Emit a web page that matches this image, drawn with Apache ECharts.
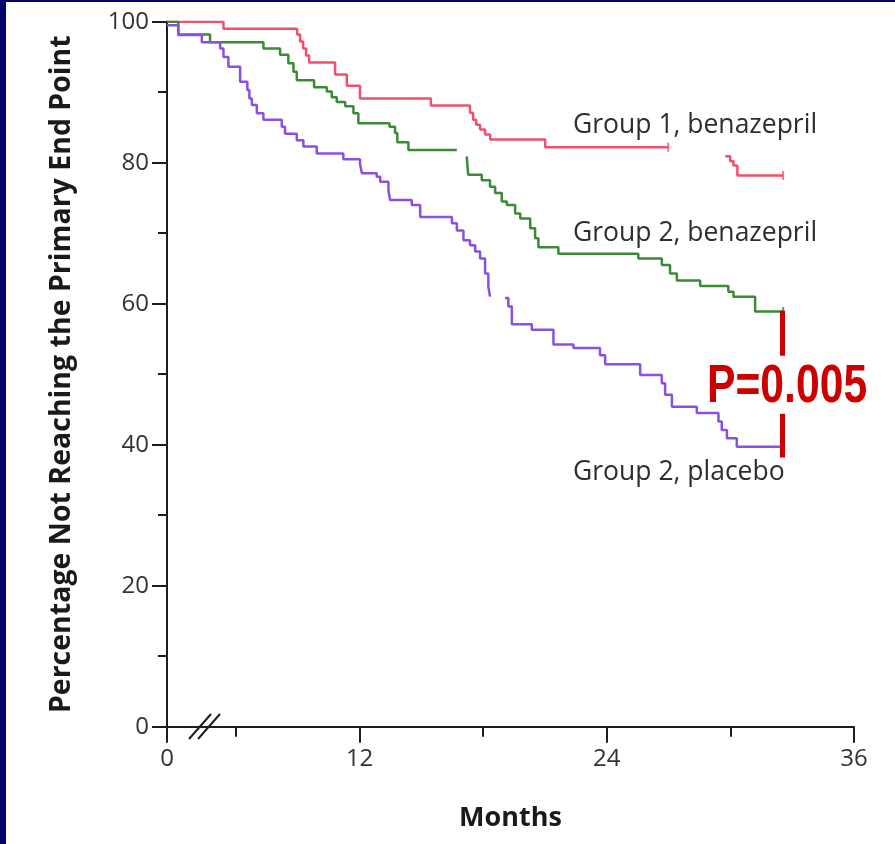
<!DOCTYPE html>
<html>
<head>
<meta charset="utf-8">
<script src="https://cdn.jsdelivr.net/npm/echarts@6/dist/echarts.min.js"></script>
<style>
html,body{margin:0;padding:0;background:#ffffff;}
#chart{width:895px;height:844px;}
</style>
</head>
<body>
<div id="chart"></div>
<script>
// Axis origin (the "0" before the axis break), in months on the linear part of the scale
const X_ORIGIN = 2.65;
const xTickValues = [X_ORIGIN, 12, 24, 36];
const xTickLabels = ['0', '12', '24', '36'];
const xMinorTickValues = [6, 18, 30];
const yTickLabels = [0, 20, 40, 60, 80, 100];

// Group 1, benazepril (null = gap in the printed curve)
const g1BenMonths = [2.65, 5.39, 8.97, 9.11, 9.26, 9.40, 9.55, 10.81, 11.38, 12.02, 15.46, 17.36, 17.51, 17.66, 17.85, 18.09, 18.34, 21.01, 26.98, null, 29.75, 29.99, 30.15, 30.34, 32.56];
const g1BenPct    = [100, 99.0, 98.2, 97.2, 96.2, 95.2, 94.2, 92.5, 90.9, 89.1, 88.1, 87.1, 86.1, 85.4, 84.7, 84.0, 83.3, 82.2, 82.2, null, 80.9, 80.2, 79.6, 78.2, 78.2];

// Group 2, benazepril
const g2BenMonths = [2.65, 3.20, 4.74, 7.33, 8.14, 8.54, 8.79, 8.95, 9.79, 10.41, 10.65, 10.89, 11.30, 11.70, 11.94, 13.45, 13.72, 13.83, 14.37, 16.72, null, 17.20, 17.27, 17.93, 18.33, 18.58, 18.90, 19.15, 19.55, 19.80, 20.28, 20.52, 20.68, 21.65, 25.53, 26.67, 27.07, 27.40, 28.53, 29.90, 30.15, 31.20, 32.56];
const g2BenPct    = [100, 98.2, 97.1, 96.2, 95.3, 94.1, 92.9, 91.7, 90.7, 90.1, 89.3, 88.6, 88.0, 87.0, 85.6, 85.1, 84.2, 82.9, 81.8, 81.8, null, 80.9, 78.3, 77.5, 76.6, 75.7, 74.5, 74.0, 72.8, 72.1, 70.7, 69.3, 68.0, 67.1, 66.4, 65.5, 64.3, 63.3, 62.5, 61.7, 61.0, 58.9, 58.9];

// Group 2, placebo
const g2PlaMonths = [2.65, 3.20, 4.34, 5.23, 5.39, 5.63, 6.20, 6.55, 6.65, 6.77, 7.01, 7.33, 8.22, 8.38, 8.95, 9.27, 9.92, 11.21, 12.02, 12.11, 12.83, 13.00, 13.40, 13.48, 14.53, 14.94, 16.48, 16.72, 17.04, 17.36, 17.61, 17.85, 18.09, 18.25, 18.33, null, 19.06, 19.22, 19.39, 20.36, 21.41, 22.38, 23.67, 23.92, 25.62, 26.67, 26.83, 27.16, 28.37, 29.42, 29.58, 29.83, 30.31, 32.56];
const g2PlaPct    = [99.5, 98.1, 97.1, 96.2, 95.0, 93.6, 91.5, 90.3, 89.1, 88.2, 87.0, 86.1, 85.1, 84.1, 83.2, 82.3, 81.3, 80.5, 79.8, 78.5, 78.0, 77.3, 76.1, 74.7, 74.0, 72.3, 71.4, 70.4, 69.0, 68.3, 67.4, 66.4, 64.3, 62.4, 61.0, null, 60.8, 59.6, 57.1, 56.3, 54.2, 53.7, 52.7, 51.4, 49.9, 48.7, 47.1, 45.4, 44.5, 43.3, 42.1, 40.9, 39.7, 39.7];

// Censoring marks
const g1CensorMonths = [26.98, 32.56];
const g1CensorPct = [82.2, 78.2];
const g2BenCensorMonths = [32.56];
const g2BenCensorPct = [58.9];
const g2PlaCensorMonths = [32.56];
const g2PlaCensorPct = [39.7];

// P-value comparison bar between the two Group 2 curves
const pBarMonth = 32.51;
const pBarPct = [59.0, 38.2];
const pValueText = 'P=0.005';

const seriesLabels = ['Group 1, benazepril', 'Group 2, benazepril', 'Group 2, placebo'];
const colors = ['#f0506e', '#3a8a36', '#8a50e4'];

function pairs(xs, ys) {
  return xs.map((x, i) => (x === null || ys[i] === null) ? [null, null] : [x, ys[i]]);
}

const chart = echarts.init(document.getElementById('chart'), null, {renderer: 'canvas'});
const axisColor = '#1e1e1e';
const fontLab = '"Open Sans", "Noto Sans", sans-serif';

function kmSeries(name, xs, ys, color, extra) {
  return Object.assign({
    name: name, type: 'line', step: 'end', showSymbol: false, connectNulls: false,
    data: pairs(xs, ys), lineStyle: {color: color, width: 2.5}, itemStyle: {color: color},
    animation: false, z: 3
  }, extra || {});
}
function censorSeries(xs, ys, color) {
  return {
    type: 'scatter', data: pairs(xs, ys), symbol: 'rect', symbolSize: [2, 9],
    itemStyle: {color: color}, animation: false, z: 4, silent: true
  };
}

chart.setOption({
  backgroundColor: '#ffffff',
  animation: false,
  grid: {left: 167, right: 41, top: 21.7, bottom: 117.3, containLabel: false},
  xAxis: [{
    type: 'value', min: X_ORIGIN, max: 36,
    name: 'Months', nameLocation: 'middle', nameGap: 78,
    nameTextStyle: {fontFamily: fontLab, fontWeight: 'bold', fontSize: 27, color: '#1a1a1a'},
    axisLine: {show: true, onZero: false, lineStyle: {color: axisColor, width: 2}},
    axisTick: {show: true, customValues: xTickValues, length: 16, lineStyle: {color: axisColor, width: 2}},
    axisLabel: {
      customValues: xTickValues, margin: 20, fontFamily: fontLab, fontSize: 24, color: '#333',
      formatter: function (v) { const i = xTickValues.indexOf(v); return i >= 0 ? xTickLabels[i] : ''; }
    },
    splitLine: {show: false}
  }, {
    type: 'value', min: X_ORIGIN, max: 36, position: 'bottom', gridIndex: 0,
    axisLine: {show: false, onZero: false},
    axisTick: {show: true, customValues: xMinorTickValues, length: 10, lineStyle: {color: axisColor, width: 2}},
    axisLabel: {show: false}, splitLine: {show: false}
  }],
  yAxis: {
    type: 'value', min: 0, max: 100, interval: 20,
    name: 'Percentage Not Reaching the Primary End Point', nameLocation: 'middle', nameGap: 91, nameRotate: 90,
    nameTextStyle: {fontFamily: fontLab, fontWeight: 'bold', fontSize: 28.5, color: '#1a1a1a'},
    axisLine: {show: true, lineStyle: {color: axisColor, width: 2}},
    axisTick: {show: true, length: 15, lineStyle: {color: axisColor, width: 2}},
    minorTick: {show: true, splitNumber: 2, length: 9, lineStyle: {color: axisColor, width: 2}},
    axisLabel: {
      margin: 18, fontFamily: fontLab, fontSize: 24, color: '#333',
      formatter: function (v) { return yTickLabels.indexOf(v) >= 0 ? String(v) : ''; }
    },
    splitLine: {show: false}
  },
  series: [
    kmSeries(seriesLabels[0], g1BenMonths, g1BenPct, colors[0]),
    kmSeries(seriesLabels[1], g2BenMonths, g2BenPct, colors[1]),
    kmSeries(seriesLabels[2], g2PlaMonths, g2PlaPct, colors[2], {
      markLine: {
        silent: true, symbol: ['none', 'none'], animation: false,
        lineStyle: {color: '#cc0000', width: 5, type: [45, 58]},
        label: {show: false},
        data: [[{coord: [pBarMonth, pBarPct[0]]}, {coord: [pBarMonth, pBarPct[1]]}]]
      }
    }),
    censorSeries(g1CensorMonths, g1CensorPct, colors[0]),
    censorSeries(g2BenCensorMonths, g2BenCensorPct, colors[1]),
    censorSeries(g2PlaCensorMonths, g2PlaCensorPct, colors[2])
  ],
  graphic: [
    {type: 'rect', left: 0, top: 0, shape: {width: 6, height: 844}, style: {fill: '#02026a'}, z: 100},
    {type: 'rect', left: 0, top: 0, shape: {width: 895, height: 2}, style: {fill: '#02026a'}, z: 100},
    {type: 'line', shape: {x1: 189, y1: 739, x2: 211, y2: 714}, style: {stroke: axisColor, lineWidth: 2}, z: 10},
    {type: 'line', shape: {x1: 198, y1: 739, x2: 220, y2: 714}, style: {stroke: axisColor, lineWidth: 2}, z: 10},
    {type: 'text', x: 573, y: 125, style: {text: seriesLabels[0], fill: '#2e2e2e', font: '26.5px "Open Sans", sans-serif', textVerticalAlign: 'middle'}, z: 10},
    {type: 'text', x: 573, y: 233, style: {text: seriesLabels[1], fill: '#2e2e2e', font: '26.5px "Open Sans", sans-serif', textVerticalAlign: 'middle'}, z: 10},
    {type: 'text', x: 573, y: 472, style: {text: seriesLabels[2], fill: '#2e2e2e', font: '26.5px "Open Sans", sans-serif', textVerticalAlign: 'middle'}, z: 10},
    {type: 'text', x: 707, y: 387, scaleX: 0.79, style: {
      text: pValueText, fill: '#cc0000', font: 'bold 54px "Liberation Sans", Arial, sans-serif',
      textVerticalAlign: 'middle', textShadowColor: '#000000', textShadowOffsetX: 3, textShadowOffsetY: 3, textShadowBlur: 0
    }, z: 20}
  ]
});
</script>
</body>
</html>
